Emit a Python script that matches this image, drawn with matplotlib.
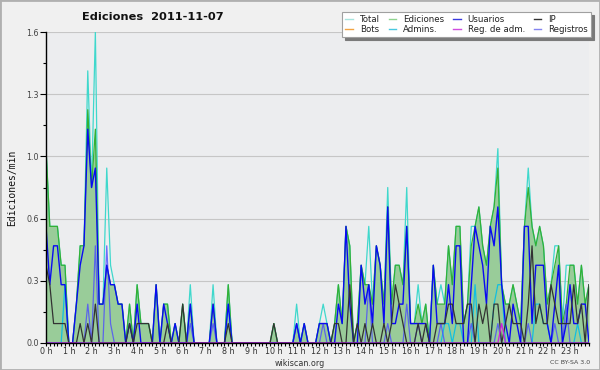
import matplotlib
matplotlib.use("Agg")
import matplotlib.pyplot as plt
from matplotlib.lines import Line2D
from matplotlib.patches import Rectangle
from matplotlib.ticker import MultipleLocator, FixedLocator

# start of each 10-minute slot (minutes after midnight)
minutes = list(range(0, 1440, 10))

total = [
    1.0, 0.6, 0.6, 0.6, 0.4, 0.4, 0, 0, 0.2, 0.5, 0.5, 1.4,
    0.8, 1.6, 0.2, 0.2, 0.9, 0.4, 0.3, 0.2, 0.2, 0, 0.2, 0,
    0.3, 0.1, 0.1, 0.1, 0, 0.3, 0, 0.2, 0.2, 0, 0.1, 0,
    0.2, 0, 0.3, 0, 0, 0, 0, 0, 0.3, 0, 0, 0,
    0.3, 0, 0, 0, 0, 0, 0, 0, 0, 0, 0, 0,
    0.1, 0, 0, 0, 0, 0, 0.2, 0, 0.1, 0, 0, 0,
    0.1, 0.2, 0.1, 0, 0.1, 0.3, 0.1, 0.6, 0.5, 0, 0.1, 0.4,
    0.3, 0.6, 0.2, 0.5, 0.4, 0.2, 0.8, 0.2, 0.4, 0.4, 0.3, 0.8,
    0.1, 0.1, 0.3, 0.1, 0.2, 0, 0.4, 0.2, 0.3, 0.2, 0.5, 0.3,
    0.6, 0.6, 0.1, 0.2, 0.6, 0.6, 0.7, 0.5, 0.4, 0.6, 0.7, 1.0,
    0.3, 0.2, 0.2, 0.3, 0.2, 0.1, 0.6, 0.9, 0.6, 0.5, 0.6, 0.5,
    0.2, 0.3, 0.5, 0.5, 0.1, 0.4, 0.4, 0.4, 0.2, 0.4, 0.2, 0.3,
]

ediciones = [
    1.0, 0.6, 0.6, 0.6, 0.4, 0.4, 0, 0, 0.2, 0.5, 0.5, 1.2,
    0.8, 1.1, 0.2, 0.2, 0.4, 0.3, 0.3, 0.2, 0.2, 0, 0.2, 0,
    0.3, 0.1, 0.1, 0.1, 0, 0.3, 0, 0.2, 0.2, 0, 0.1, 0,
    0.2, 0, 0.2, 0, 0, 0, 0, 0, 0.2, 0, 0, 0,
    0.3, 0, 0, 0, 0, 0, 0, 0, 0, 0, 0, 0,
    0.1, 0, 0, 0, 0, 0, 0.1, 0, 0.1, 0, 0, 0,
    0.1, 0.1, 0.1, 0, 0.1, 0.3, 0.1, 0.6, 0.5, 0, 0.1, 0.4,
    0.3, 0.3, 0.2, 0.5, 0.4, 0.2, 0.7, 0.2, 0.4, 0.4, 0.3, 0.6,
    0.1, 0.1, 0.2, 0.1, 0.2, 0, 0.4, 0.2, 0.2, 0.2, 0.5, 0.3,
    0.6, 0.6, 0.1, 0.2, 0.5, 0.6, 0.7, 0.5, 0.4, 0.6, 0.7, 0.9,
    0.3, 0.2, 0.2, 0.3, 0.2, 0.1, 0.6, 0.8, 0.6, 0.5, 0.6, 0.5,
    0.2, 0.3, 0.4, 0.5, 0.1, 0.2, 0.4, 0.4, 0.2, 0.4, 0.2, 0.3,
]

usuarios = [
    0.6, 0.3, 0.5, 0.5, 0.3, 0.3, 0, 0, 0.2, 0.4, 0.5, 1.1,
    0.8, 0.9, 0.2, 0.2, 0.4, 0.3, 0.3, 0.2, 0.2, 0, 0.1, 0,
    0.2, 0, 0, 0, 0, 0.3, 0, 0.2, 0.1, 0, 0.1, 0,
    0, 0, 0.2, 0, 0, 0, 0, 0, 0.2, 0, 0, 0,
    0.2, 0, 0, 0, 0, 0, 0, 0, 0, 0, 0, 0,
    0, 0, 0, 0, 0, 0, 0.1, 0, 0.1, 0, 0, 0,
    0.1, 0.1, 0.1, 0, 0, 0.2, 0.1, 0.6, 0.2, 0, 0, 0.4,
    0.2, 0.3, 0.1, 0.5, 0.4, 0.1, 0.7, 0.1, 0.1, 0.2, 0.2, 0.6,
    0.1, 0.1, 0.1, 0.1, 0.1, 0, 0.4, 0.1, 0.1, 0.1, 0.3, 0.1,
    0.5, 0.5, 0, 0, 0.3, 0.6, 0.5, 0.4, 0.2, 0.6, 0.5, 0.7,
    0.3, 0.1, 0, 0.2, 0.1, 0, 0.6, 0.6, 0.1, 0.4, 0.4, 0.4,
    0.1, 0, 0.2, 0.4, 0, 0.1, 0.3, 0.1, 0.1, 0.2, 0.2, 0,
]

ip = [
    0.4, 0.3, 0.1, 0.1, 0.1, 0.1, 0, 0, 0, 0.1, 0, 0.1,
    0, 0.2, 0, 0, 0, 0, 0, 0, 0, 0, 0.1, 0,
    0.1, 0.1, 0.1, 0.1, 0, 0, 0, 0, 0.1, 0, 0, 0,
    0.2, 0, 0, 0, 0, 0, 0, 0, 0, 0, 0, 0,
    0.1, 0, 0, 0, 0, 0, 0, 0, 0, 0, 0, 0,
    0.1, 0, 0, 0, 0, 0, 0, 0, 0, 0, 0, 0,
    0, 0, 0, 0, 0.1, 0.1, 0, 0, 0.3, 0, 0.1, 0,
    0.1, 0, 0.1, 0, 0, 0.1, 0, 0.1, 0.3, 0.2, 0.1, 0,
    0, 0, 0.1, 0, 0.1, 0, 0, 0.1, 0.1, 0.1, 0.2, 0.2,
    0.1, 0.1, 0.1, 0.2, 0.2, 0, 0.2, 0.1, 0.2, 0, 0.2, 0.2,
    0, 0.1, 0.2, 0.1, 0.1, 0.1, 0, 0.2, 0.5, 0.1, 0.2, 0.1,
    0.1, 0.3, 0.2, 0.1, 0.1, 0.1, 0.1, 0.3, 0.1, 0.2, 0, 0.3,
]

bots = [
    0, 0, 0, 0, 0, 0, 0, 0, 0, 0, 0, 0,
    0, 0, 0, 0, 0, 0, 0, 0, 0, 0, 0, 0,
    0, 0, 0, 0, 0, 0, 0, 0, 0, 0, 0, 0,
    0, 0, 0, 0, 0, 0, 0, 0, 0, 0, 0, 0,
    0, 0, 0, 0, 0, 0, 0, 0, 0, 0, 0, 0,
    0, 0, 0, 0, 0, 0, 0, 0, 0, 0, 0, 0,
    0, 0, 0, 0, 0, 0, 0, 0, 0, 0, 0, 0,
    0, 0, 0, 0, 0, 0, 0, 0, 0, 0, 0, 0,
    0, 0, 0, 0, 0, 0, 0, 0, 0, 0, 0, 0,
    0, 0, 0, 0, 0, 0, 0, 0, 0, 0, 0, 0,
    0, 0, 0, 0, 0, 0, 0, 0, 0, 0, 0, 0,
    0, 0, 0, 0, 0, 0, 0, 0, 0, 0, 0, 0,
]

admins = [
    0, 0, 0, 0, 0, 0.3, 0, 0, 0, 0, 0, 0,
    0, 0, 0, 0, 0, 0, 0, 0, 0, 0, 0, 0,
    0, 0, 0, 0, 0, 0, 0, 0, 0, 0, 0, 0,
    0, 0, 0, 0, 0, 0, 0, 0, 0, 0, 0, 0,
    0.2, 0, 0, 0, 0, 0, 0, 0, 0, 0, 0, 0,
    0, 0, 0, 0, 0, 0, 0, 0, 0, 0, 0, 0,
    0, 0, 0, 0, 0, 0, 0, 0, 0, 0, 0, 0,
    0, 0, 0, 0, 0, 0, 0, 0, 0, 0, 0, 0,
    0, 0, 0, 0, 0, 0, 0, 0, 0, 0.1, 0.1, 0,
    0.1, 0.1, 0, 0, 0, 0.3, 0, 0, 0, 0, 0.2, 0.3,
    0.3, 0, 0, 0, 0, 0, 0, 0, 0, 0.2, 0.2, 0.1,
    0.1, 0, 0, 0, 0, 0, 0, 0, 0.1, 0, 0, 0,
]

reg_adm = [
    0, 0, 0, 0, 0, 0, 0, 0, 0, 0, 0, 0,
    0, 0, 0, 0, 0, 0, 0, 0, 0, 0, 0, 0,
    0, 0, 0, 0, 0, 0, 0, 0, 0, 0, 0, 0,
    0, 0, 0, 0, 0, 0, 0, 0, 0, 0, 0, 0,
    0, 0, 0, 0, 0, 0, 0, 0, 0, 0, 0, 0,
    0, 0, 0, 0, 0, 0, 0, 0, 0, 0, 0, 0,
    0, 0, 0, 0, 0, 0, 0, 0, 0, 0, 0, 0,
    0, 0, 0, 0, 0, 0, 0, 0, 0, 0, 0, 0,
    0, 0, 0, 0, 0, 0, 0, 0, 0, 0, 0, 0,
    0, 0, 0, 0, 0, 0, 0, 0, 0, 0, 0, 0,
    0.1, 0, 0, 0, 0, 0, 0, 0, 0, 0, 0, 0,
    0, 0, 0, 0, 0, 0, 0, 0, 0, 0, 0, 0,
]

registros = [
    0, 0, 0, 0, 0, 0, 0, 0, 0, 0, 0, 0.2,
    0, 0.5, 0, 0, 0.5, 0.1, 0, 0, 0, 0, 0, 0,
    0, 0, 0, 0, 0, 0, 0, 0, 0, 0, 0, 0,
    0, 0, 0.1, 0, 0, 0, 0, 0, 0.1, 0, 0, 0,
    0, 0, 0, 0, 0, 0, 0, 0, 0, 0, 0, 0,
    0, 0, 0, 0, 0, 0, 0.1, 0, 0, 0, 0, 0,
    0, 0.1, 0, 0, 0, 0, 0, 0, 0, 0, 0, 0,
    0, 0.3, 0, 0, 0, 0, 0.1, 0, 0, 0, 0, 0.2,
    0, 0, 0.1, 0, 0, 0, 0, 0, 0.1, 0, 0, 0,
    0, 0, 0, 0, 0.1, 0, 0, 0, 0, 0, 0, 0.1,
    0, 0, 0, 0, 0, 0, 0, 0.1, 0, 0, 0, 0,
    0, 0, 0.1, 0, 0, 0.2, 0, 0, 0, 0, 0, 0,
]

hour_ticks = [0, 60, 120, 180, 240, 300, 360, 420, 480, 540, 600, 660,
              720, 780, 840, 900, 960, 1020, 1080, 1140, 1200, 1260, 1320, 1380]
hour_labels = ["0 h", "1 h", "2 h", "3 h", "4 h", "5 h", "6 h", "7 h",
               "8 h", "9 h", "10 h", "11 h", "12 h", "13 h", "14 h", "15 h",
               "16 h", "17 h", "18 h", "19 h", "20 h", "21 h", "22 h", "23 h"]
y_ticks = [0.0, 0.32, 0.64, 0.96, 1.28, 1.6]
y_labels = ["0.0", "0.3", "0.6", "1.0", "1.3", "1.6"]
y_minor = [0.16, 0.48, 0.8, 1.12, 1.44]

legend_labels = ["Total", "Bots", "Ediciones", "Admins.",
                 "Usuarios", "Reg. de adm.", "IP", "Registros"]
legend_colors = ["#a8e4de", "#f2a444", "#8fd48f", "#48c8e0",
                 "#3a3ae0", "#d04ce0", "#333333", "#8484f0"]

W, H = 600, 370
fig = plt.figure(figsize=(6, 3.7), dpi=100, facecolor="#f0f0f0")
ax = fig.add_axes([46 / W, 1 - 343 / H, 543 / W, 311 / H])
ax.set_facecolor("#ecedef")

ax.fill_between(minutes, 0, ediciones, color="#99cc99", lw=0, zorder=1.2)
ax.plot(minutes, bots, color="#f0a030", lw=0.9, zorder=1.5)
ax.plot(minutes, total, color="#3fd8cc", lw=0.9, zorder=1.6)
ax.plot(minutes, ediciones, color="#34b034", lw=0.9, zorder=1.7)
ax.plot(minutes, admins, color="#12bfe0", lw=0.9, zorder=1.8)
ax.plot(minutes, registros, color="#4c4cff", lw=0.9, alpha=0.8, zorder=1.9)
ax.plot(minutes, usuarios, color="#0a0af2", lw=1.0, zorder=2.0)
ax.plot(minutes, ip, color="#333333", lw=0.9, zorder=2.1)
ax.plot(minutes, reg_adm, color="#d020e0", lw=0.9, zorder=2.2)

ax.set_xlim(0, 1430)
ax.set_ylim(0, 1.6)

ax.yaxis.grid(True, color="#c6c6c6", lw=0.8)
ax.set_axisbelow(True)
for s in ("top", "right"):
    ax.spines[s].set_visible(False)
for s in ("left", "bottom"):
    ax.spines[s].set_color("black")
    ax.spines[s].set_linewidth(1.0)
    ax.spines[s].set_zorder(3)

ax.set_yticks(y_ticks)
ax.set_yticklabels(y_labels)
ax.yaxis.set_minor_locator(FixedLocator(y_minor))
ax.set_xticks(hour_ticks)
ax.set_xticklabels(hour_labels)
ax.xaxis.set_minor_locator(MultipleLocator(10))

ax.tick_params(axis="y", which="major", length=4, width=0.8, pad=1,
               labelsize=5.8, labelcolor="#444444")
ax.tick_params(axis="y", which="minor", length=2.5, width=0.8)
ax.tick_params(axis="x", which="major", length=2.5, width=0.8, pad=0.5,
               labelsize=5.8, labelcolor="#333333")
ax.tick_params(axis="x", which="minor", length=2.5, width=0.8)

fig.text(12 / W, 1 - 188 / H, "Ediciones/min", rotation=90,
         family="DejaVu Sans Mono", fontsize=7, ha="center", va="center",
         color="#111111")
fig.text(153 / W, 1 - 17 / H, "Ediciones  2011-11-07", fontweight="bold",
         fontsize=8.2, ha="center", va="center", color="#111111")

handles = [Line2D([0], [0], color=c, lw=1.0) for c in legend_colors]
leg = fig.legend(handles, legend_labels, ncol=4, loc="upper right",
                 bbox_to_anchor=(591 / W, 1 - 12 / H),
                 bbox_transform=fig.transFigure, frameon=True,
                 fancybox=False, shadow={"color": "#7a7a7a", "alpha": 1},
                 fontsize=6.2, handlelength=0.9, handletextpad=0.8,
                 columnspacing=1.0, labelspacing=0.12, borderpad=0.35,
                 borderaxespad=0, edgecolor="#a0a0a0", framealpha=1)
leg.get_frame().set_linewidth(0.8)
for t in leg.get_texts():
    t.set_color("#222222")

fig.text(0.5, 1 - 363 / H, "wikiscan.org", ha="center", va="center",
         fontsize=5.8, color="#333333")
fig.text(590 / W, 1 - 363 / H, "CC BY-SA 3.0", ha="right", va="center",
         fontsize=4.5, color="#444444")

fig.patches.append(Rectangle((0, 0), 1, 1, transform=fig.transFigure,
                             fill=False, edgecolor="#b0b0b0", lw=2))

fig.savefig("out.png", dpi=100, facecolor=fig.get_facecolor())
